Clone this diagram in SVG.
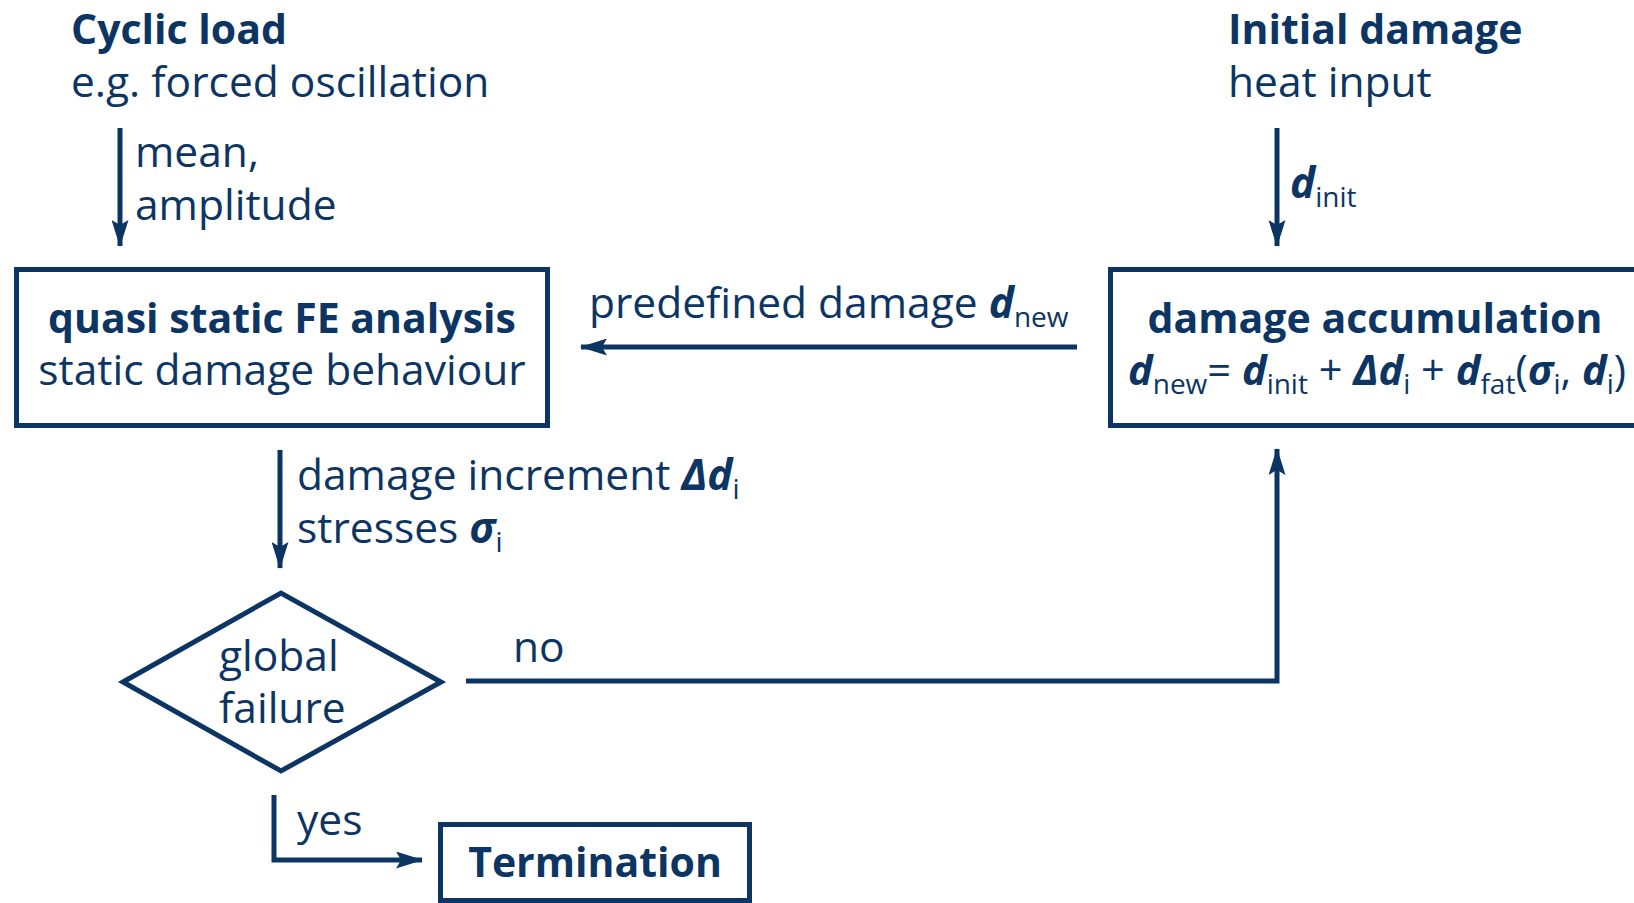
<svg xmlns="http://www.w3.org/2000/svg" width="1634" height="903" viewBox="0 0 1634 903">
<style>
text{font-family:"Open Sans","Noto Sans","DejaVu Sans",sans-serif;font-size:42.5px;fill:#0c3563}
.b{font-weight:bold;font-size:41px}
.f{font-size:41.6px}
.v{font-weight:bold;font-style:italic}
.s{font-size:28px;font-weight:normal;font-style:normal}
.box{fill:none;stroke:#0c3563;stroke-width:5}
.ln{fill:none;stroke:#0c3563;stroke-width:5}
</style>
<defs>
<marker id="ah" viewBox="0 0 27 17" refX="26" refY="8.5" markerWidth="27" markerHeight="17" markerUnits="userSpaceOnUse" orient="auto">
<path d="M0,0 L27,8.5 L0,17 L5,8.5 Z" fill="#0c3563"/>
</marker>
</defs>
<rect width="1634" height="903" fill="#ffffff"/>
<g id="cyclic-load">
<text x="71" y="44" class="b">Cyclic load</text>
<text x="71" y="97">e.g. forced oscillation</text>
</g>
<g id="initial-damage">
<text x="1228" y="44" class="b">Initial damage</text>
<text x="1228" y="97">heat input</text>
</g>
<g id="fe-analysis">
<rect class="box" x="16.5" y="269.5" width="531" height="156"/>
<text x="282" y="333" class="b" text-anchor="middle">quasi static FE analysis</text>
<text x="282" y="385" text-anchor="middle">static damage behaviour</text>
</g>
<g id="damage-accumulation">
<rect class="box" x="1110.5" y="269.5" width="560" height="156"/>
<text x="1375" y="333" class="b" text-anchor="middle">damage accumulation</text>
<text x="1128" y="385" class="f"><tspan class="v">d</tspan><tspan class="s" dy="9">new</tspan><tspan dy="-9">= </tspan><tspan class="v">d</tspan><tspan class="s" dy="9">init</tspan><tspan dy="-9"> + </tspan><tspan class="v">Δd</tspan><tspan class="s" dy="9">i</tspan><tspan dy="-9"> + </tspan><tspan class="v">d</tspan><tspan class="s" dy="9">fat</tspan><tspan dy="-9">(</tspan><tspan class="v">σ</tspan><tspan class="s" dy="9">i</tspan><tspan dy="-9">, </tspan><tspan class="v">d</tspan><tspan class="s" dy="9">i</tspan><tspan dy="-9">)</tspan></text>
</g>
<g id="global-failure">
<polygon class="box" points="123,682 281,593 441,682 281,771"/>
<text x="219" y="671">global</text>
<text x="219" y="723">failure</text>
</g>
<g id="termination">
<rect class="box" x="440.5" y="824.5" width="309" height="76"/>
<text x="595" y="877" class="b" text-anchor="middle">Termination</text>
</g>
<g id="connectors">
<line class="ln" x1="120" y1="128" x2="120" y2="246" marker-end="url(#ah)"/>
<line class="ln" x1="1277" y1="128" x2="1277" y2="246" marker-end="url(#ah)"/>
<line class="ln" x1="1077" y1="347" x2="581" y2="347" marker-end="url(#ah)"/>
<line class="ln" x1="280" y1="450" x2="280" y2="568" marker-end="url(#ah)"/>
<polyline class="ln" points="466,681 1277,681 1277,449" marker-end="url(#ah)"/>
<polyline class="ln" points="274,795 274,860 422,860" marker-end="url(#ah)"/>
</g>
<g id="labels">
<text x="135" y="167">mean,</text>
<text x="135" y="220">amplitude</text>
<text x="1290" y="198"><tspan class="v">d</tspan><tspan class="s" dy="9">init</tspan></text>
<text x="589" y="318">predefined damage <tspan class="v">d</tspan><tspan class="s" dy="9">new</tspan></text>
<text x="297" y="490">damage increment <tspan class="v">Δd</tspan><tspan class="s" dy="9">i</tspan></text>
<text x="297" y="543">stresses <tspan class="v">σ</tspan><tspan class="s" dy="9">i</tspan></text>
<text x="513" y="662">no</text>
<text x="297" y="835">yes</text>
</g>
</svg>
